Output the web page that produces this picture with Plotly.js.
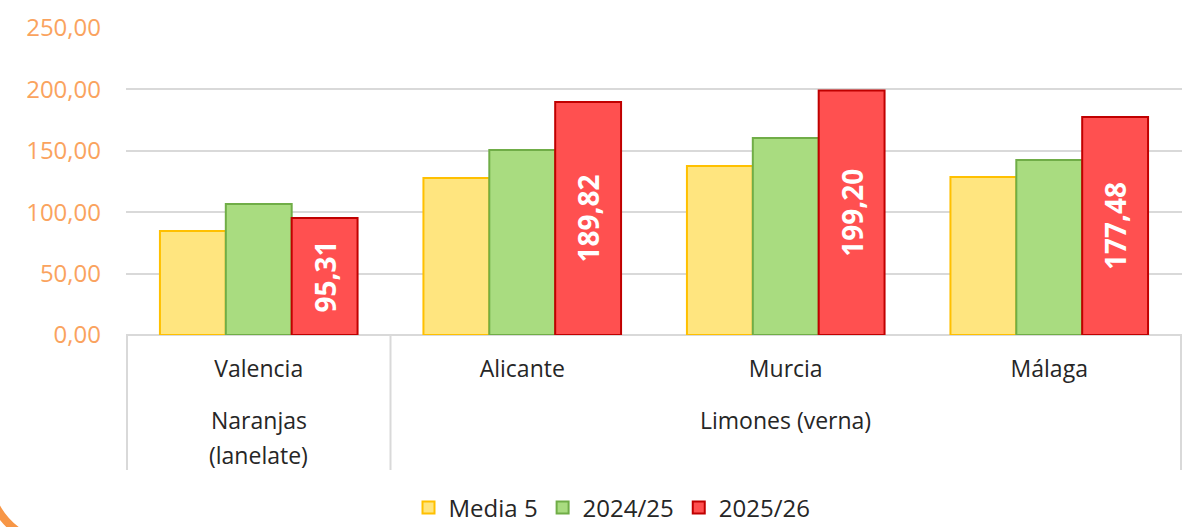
<!DOCTYPE html>
<html>
<head>
<meta charset="utf-8">
<script src="https://cdn.plot.ly/plotly-3.0.1.min.js"></script>
<style>html,body{margin:0;padding:0;background:#fff;}#chart{width:1191px;height:527px;}</style>
</head>
<body>
<div id="chart"></div>
<script>
// ---- data ----
const categories = ["Valencia", "Alicante", "Murcia", "Málaga"];
const categoryGroup = [0, 1, 1, 1];
const groupLabels = [["Naranjas", "(lanelate)"], ["Limones (verna)"]];
const seriesNames = ["Media 5", "2024/25", "2025/26"];
const media5 = [84.7, 127.9, 137.6, 128.7];
const s2024 = [106.7, 150.7, 160.4, 142.5];
const s2025 = [95.31, 189.82, 199.20, 177.48];
const yTicks = [0, 50, 100, 150, 200, 250];

// ---- styles ----
const FONT = "Open Sans, Noto Sans, sans-serif";
const fills = ["#FFE57F", "#A9DC80", "#FF5050"];
const lines = ["#FFC000", "#70AD47", "#C00000"];
const GRID = "#D9D9D9";
const TXT = "#262626";

const W = 1191, H = 527, L = 126, R = 9, T = 28, B = 192;
const pw = W - L - R, ph = H - T - B;
const px2x = x => (x - L) / pw;
const px2y = y => (H - B - y) / ph;

const values = [media5, s2024, s2025];
const traces = values.map((v, k) => ({
  type: "bar",
  name: seriesNames[k],
  x: categories,
  y: v,
  marker: {color: fills[k], line: {color: lines[k], width: 2}},
  hoverinfo: "skip",
  texttemplate: k === 2 ? "<b>%{y:.2f}</b>" : "",
  textposition: k === 2 ? "inside" : "none",
  insidetextanchor: "middle",
  textangle: -90,
  textfont: {family: FONT, size: 28, color: "#FFFFFF"},
  cliponaxis: false
}));

// dividers between outer groups
const shapes = [];
const bounds = [-0.5];
for (let i = 1; i < categories.length; i++) {
  if (categoryGroup[i] !== categoryGroup[i - 1]) bounds.push(i - 0.5);
}
bounds.push(categories.length - 0.5);
bounds.forEach(b => shapes.push({
  type: "line", xref: "x", yref: "paper",
  x0: b, x1: b, y0: 0, y1: px2y(470),
  line: {color: GRID, width: 2}
}));

// decorative orange corner
shapes.push({
  type: "path", xref: "paper", yref: "paper",
  path: `M${px2x(-8)},${px2y(498)} Q${px2x(4)},${px2y(528)} ${px2x(34)},${px2y(540)}`,
  line: {color: "#F79646", width: 8}
});

// outer group labels
const annotations = [];
groupLabels.forEach((lbls, g) => {
  const idx = categoryGroup.map((c, i) => c === g ? i : null).filter(i => i !== null);
  const xc = (idx[0] + idx[idx.length - 1]) / 2;
  lbls.forEach((t, j) => annotations.push({
    xref: "x", yref: "paper", x: xc, y: px2y(420 + 35 * j),
    text: t, showarrow: false, xanchor: "center", yanchor: "middle",
    font: {family: FONT, size: 23, color: TXT}
  }));
});

const layout = {
  width: W, height: H,
  margin: {l: L, r: R, t: T, b: B, autoexpand: false},
  paper_bgcolor: "#FFFFFF", plot_bgcolor: "#FFFFFF",
  separators: ",.",
  barmode: "group", bargap: 0.25, bargroupgap: 0,
  font: {family: FONT, color: TXT},
  xaxis: {
    type: "category",
    showgrid: false, zeroline: false,
    showline: false,
    ticks: "", ticklabelstandoff: 18,
    tickfont: {family: FONT, size: 23, color: TXT},
    fixedrange: true
  },
  yaxis: {
    range: [0, 250],
    tickvals: yTicks,
    tickformat: ".2f",
    showgrid: true, gridcolor: GRID, gridwidth: 2,
    zeroline: true, zerolinecolor: GRID, zerolinewidth: 2,
    showline: false, ticks: "", ticklabelstandoff: 24,
    tickfont: {family: FONT, size: 24, color: "#FAA35E"},
    fixedrange: true
  },
  showlegend: true,
  legend: {
    orientation: "h", x: px2x(612), xanchor: "center",
    y: px2y(508), yanchor: "middle",
    font: {family: FONT, size: 24, color: TXT},
    itemwidth: 30, traceorder: "normal"
  },
  shapes: shapes,
  annotations: annotations
};

Plotly.newPlot("chart", traces, layout, {staticPlot: true, displayModeBar: false});
</script>
</body>
</html>
